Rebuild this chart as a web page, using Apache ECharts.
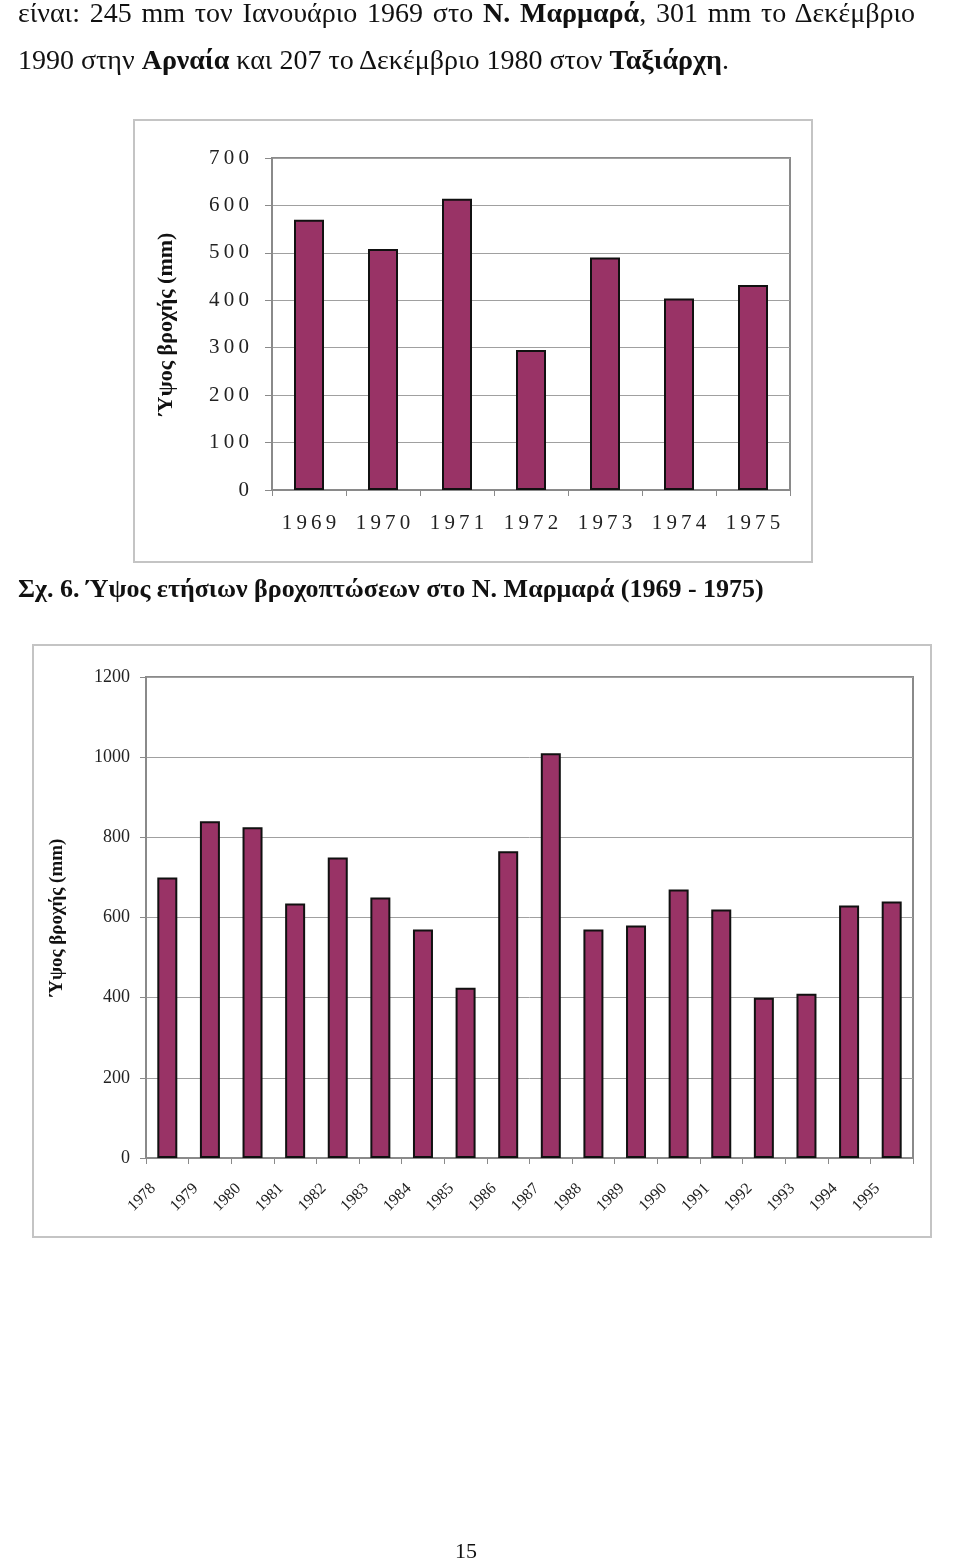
<!DOCTYPE html>
<html>
<head>
<meta charset="utf-8">
<script src="https://cdn.jsdelivr.net/npm/echarts@6/dist/echarts.min.js"></script>
<style>
html,body{margin:0;padding:0;background:#fff;}
body{width:960px;height:1563px;position:relative;overflow:hidden;font-family:"Liberation Serif","Times New Roman",serif;color:#111;}
#chart{position:absolute;left:0;top:0;width:960px;height:1563px;}
.t{position:absolute;white-space:nowrap;line-height:28px;font-size:28px;}
#l1{left:18px;top:-1px;width:897px;text-align:justify;text-align-last:justify;white-space:normal;}
#l2{left:18px;top:46px;}
#cap{left:18px;top:576px;font-size:26px;font-weight:bold;line-height:26px;}
#pg{left:0;width:932px;text-align:center;top:1540px;font-size:22px;line-height:22px;}
</style>
</head>
<body>
<div id="chart"></div>
<div class="t" id="l1">είναι: 245 mm τον Ιανουάριο 1969 στο <b>Ν. Μαρμαρά</b>, 301 mm το Δεκέμβριο</div>
<div class="t" id="l2">1990 στην <b>Αρναία</b> και 207 το Δεκέμβριο 1980 στον <b>Ταξιάρχη</b>.</div>
<div class="t" id="cap">Σχ. 6. Ύψος ετήσιων βροχοπτώσεων στο Ν. Μαρμαρά (1969 - 1975)</div>
<div class="t" id="pg">15</div>
<script>
// Chart 1: N. Marmaras 1969-1975
const years1 = ['1969','1970','1971','1972','1973','1974','1975'];
const rain1 = [570, 508, 614, 295, 490, 404, 432];
const yTicks1 = {min: 0, max: 700, interval: 100};

// Chart 2: 1978-1995
const years2 = ['1978','1979','1980','1981','1982','1983','1984','1985','1986','1987','1988','1989','1990','1991','1992','1993','1994','1995'];
const rain2 = [700, 840, 825, 635, 750, 650, 570, 425, 765, 1010, 570, 580, 670, 620, 400, 410, 630, 640];
const yTicks2 = {min: 0, max: 1200, interval: 200};

const yName = 'Ύψος βροχής (mm)';
const FONT = '"Liberation Serif","Times New Roman",serif';
const spaced = s => String(s).split('').join('\u2009');

const barColor = '#993366';
const axisGray = '#8a8a8a';
const gridGray = '#a0a0a0';

const chart = echarts.init(document.getElementById('chart'), null, {renderer: 'canvas'});
chart.setOption({
  animation: false,
  backgroundColor: '#fff',
  graphic: [
    {type: 'rect', shape: {x: 134, y: 120, width: 678, height: 442}, style: {fill: 'none', stroke: '#c4c4c4', lineWidth: 2}, z: 0},
    {type: 'rect', shape: {x: 33, y: 645, width: 898, height: 592}, style: {fill: 'none', stroke: '#c4c4c4', lineWidth: 2}, z: 0}
  ],
  grid: [
    {left: 272, top: 158, width: 518, height: 332, show: true, borderColor: axisGray, borderWidth: 2, backgroundColor: 'transparent'},
    {left: 146, top: 677, width: 767, height: 481, show: true, borderColor: axisGray, borderWidth: 2, backgroundColor: 'transparent'}
  ],
  xAxis: [
    {
      gridIndex: 0, type: 'category', data: years1, boundaryGap: true,
      axisLine: {show: true, lineStyle: {color: axisGray, width: 2}},
      axisTick: {show: true, alignWithLabel: false, length: 6, lineStyle: {color: axisGray, width: 1}},
      axisLabel: {fontFamily: FONT, fontSize: 21, color: '#222', margin: 23, formatter: v => spaced(v)}
    },
    {
      gridIndex: 1, type: 'category', data: years2, boundaryGap: true,
      axisLine: {show: true, lineStyle: {color: axisGray, width: 2}},
      axisTick: {show: true, alignWithLabel: false, length: 6, lineStyle: {color: axisGray, width: 1}},
      axisLabel: {fontFamily: FONT, fontSize: 16, color: '#222', rotate: 45, margin: 14, padding: [0, 20, 0, 0], interval: 0}
    }
  ],
  yAxis: [
    {
      gridIndex: 0, type: 'value', min: yTicks1.min, max: yTicks1.max, interval: yTicks1.interval,
      name: yName, nameLocation: 'middle', nameGap: 95, nameRotate: 90,
      nameTextStyle: {fontFamily: FONT, fontSize: 22, fontWeight: 'bold', color: '#111'},
      axisLine: {show: true, lineStyle: {color: axisGray, width: 2}},
      axisTick: {show: true, length: 7, lineStyle: {color: axisGray}},
      splitLine: {show: true, lineStyle: {color: gridGray, width: 1}},
      axisLabel: {fontFamily: FONT, fontSize: 21, color: '#222', margin: 23, formatter: v => spaced(v)}
    },
    {
      gridIndex: 1, type: 'value', min: yTicks2.min, max: yTicks2.max, interval: yTicks2.interval,
      name: yName, nameLocation: 'middle', nameGap: 79, nameRotate: 90,
      nameTextStyle: {fontFamily: FONT, fontSize: 19, fontWeight: 'bold', color: '#111'},
      axisLine: {show: true, lineStyle: {color: axisGray, width: 2}},
      axisTick: {show: true, length: 6, lineStyle: {color: axisGray}},
      splitLine: {show: true, lineStyle: {color: gridGray, width: 1}},
      axisLabel: {fontFamily: FONT, fontSize: 18, color: '#222', margin: 16, formatter: v => String(v)}
    }
  ],
  series: [
    {type: 'bar', xAxisIndex: 0, yAxisIndex: 0, data: rain1, barWidth: 30,
     itemStyle: {color: barColor, borderColor: '#111', borderWidth: 2}},
    {type: 'bar', xAxisIndex: 1, yAxisIndex: 1, data: rain2, barWidth: 20,
     itemStyle: {color: barColor, borderColor: '#111', borderWidth: 2}}
  ]
});
</script>
</body>
</html>
